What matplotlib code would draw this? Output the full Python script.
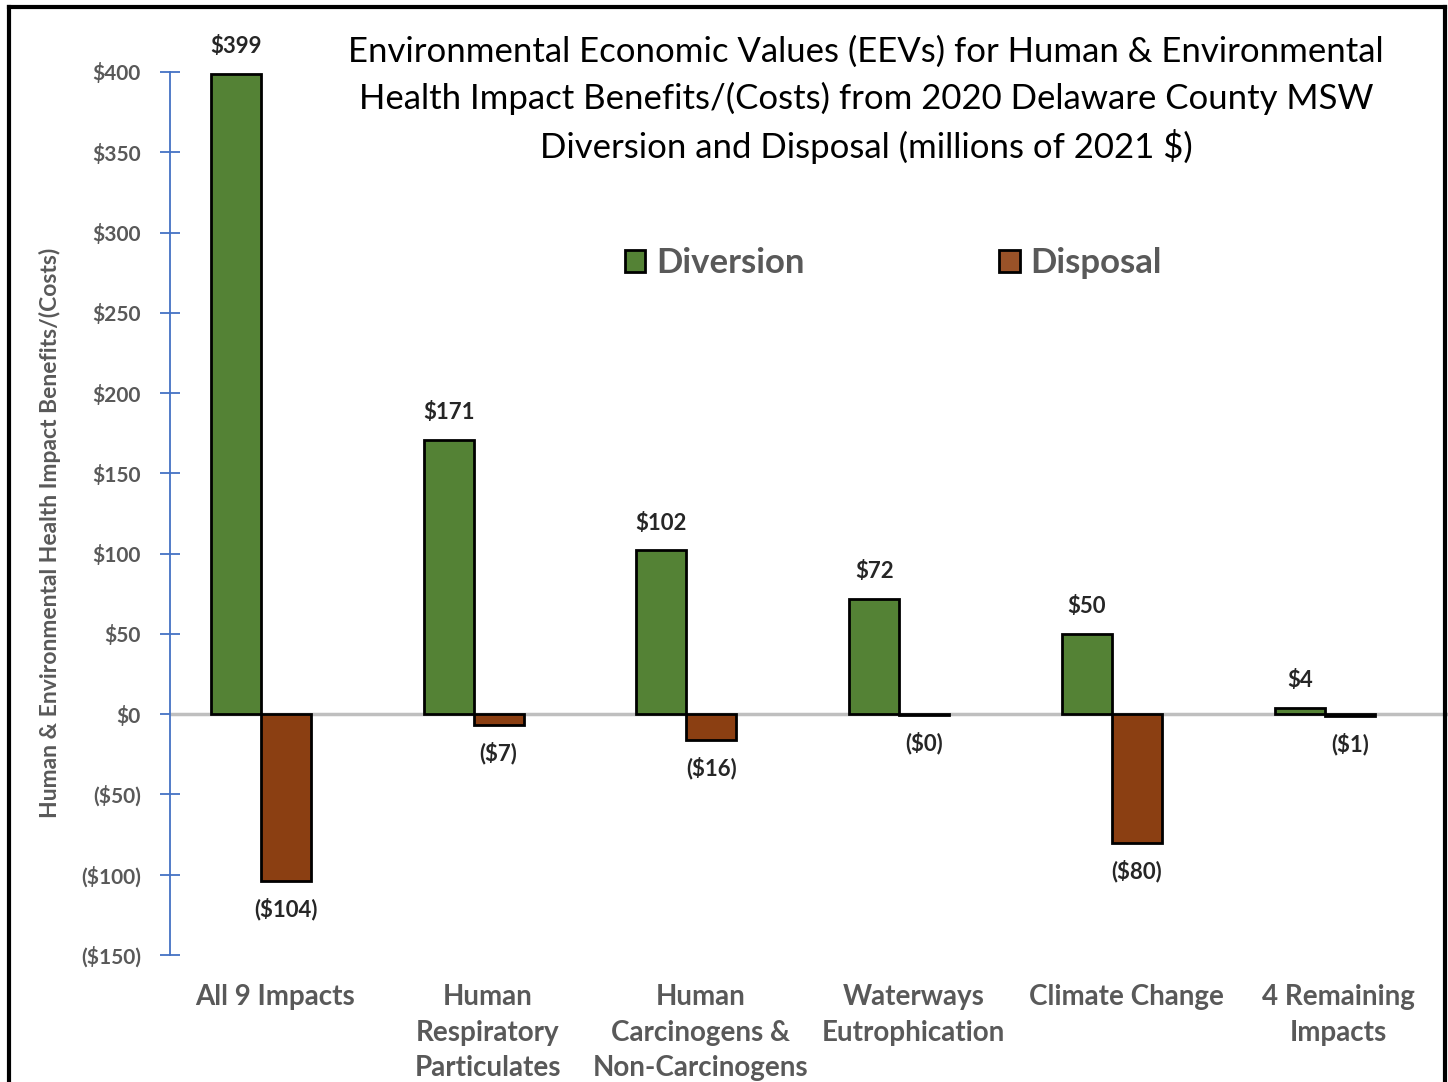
import matplotlib
matplotlib.use("Agg")
import matplotlib.pyplot as plt
import numpy as np
from matplotlib.lines import Line2D
from matplotlib.patches import Patch

categories = ["All 9 Impacts", "Human\nRespiratory\nParticulates", "Human\nCarcinogens &\nNon-Carcinogens",
              "Waterways\nEutrophication", "Climate Change", "4 Remaining\nImpacts"]
diversion = [399, 171, 102, 72, 50, 4]
disposal = [-104, -7, -16, -0.4, -80, -1.3]
div_labels = ["$399", "$171", "$102", "$72", "$50", "$4"]
dis_labels = ["($104)", "($7)", "($16)", "($0)", "($80)", "($1)"]
yticks = [-150, -100, -50, 0, 50, 100, 150, 200, 250, 300, 350, 400]
ytick_labels = ["($150)", "($100)", "($50)", "$0", "$50", "$100", "$150", "$200", "$250", "$300", "$350", "$400"]

plt.rcParams['font.family'] = ['Lato', 'DejaVu Sans']

W, H = 1448, 1082
fig = plt.figure(figsize=(W/100, H/100), dpi=100)
ax = fig.add_axes([170/W, 1 - 955/H, (1448-170)/W, (955-72)/H])

green = "#548235"
brown = "#8B3F12"
gray = "#595959"

x = np.arange(len(categories))
bw = 0.235
ax.bar(x - bw/2, diversion, bw, color=green, edgecolor="black", linewidth=2, label="Diversion", zorder=3)
ax.bar(x + bw/2, disposal, bw, color=brown, edgecolor="black", linewidth=2, label="Disposal", zorder=3)

for xi, v, t in zip(x - bw/2, diversion, div_labels):
    ax.annotate(t, (xi, v), xytext=(0, 12), textcoords="offset points", ha="center", va="bottom",
                fontsize=16, fontweight="bold", color="#262626", annotation_clip=False)
for xi, v, t in zip(x + bw/2, disposal, dis_labels):
    ax.annotate(t, (xi, v), xytext=(0, -12), textcoords="offset points", ha="center", va="top",
                fontsize=16, fontweight="bold", color="#262626", annotation_clip=False)

ax.axhline(0, color="#BFBFBF", linewidth=2.5, zorder=2)

ax.set_xlim(-0.427, 5.579)
ax.set_ylim(-150, 400)
ax.set_yticks(yticks)
ax.set_yticklabels(ytick_labels, fontsize=15, fontweight="bold", color=gray)
ax.set_xticks(x + 0.066)
ax.set_xticklabels(categories, fontsize=20, fontweight="bold", color=gray, linespacing=1.45, va="top")
ax.tick_params(axis="x", length=0, pad=21)
ax.tick_params(axis="y", direction="inout", length=14, width=1.3, color="#4472C4", pad=14)
for s in ["top", "right", "bottom"]:
    ax.spines[s].set_visible(False)
ax.spines["left"].set_color("#4472C4")
ax.spines["left"].set_linewidth(1.3)

fig.text(50/W, 1 - 533/H, "Human & Environmental Health Impact Benefits/(Costs)", rotation=90,
         ha="center", va="center", fontsize=16.5, fontweight="bold", color=gray)

fig.text(866/W, 1 - 100/H, "Environmental Economic Values (EEVs) for Human & Environmental\n"
         "Health Impact Benefits/(Costs) from 2020 Delaware County MSW\n"
         "Diversion and Disposal (millions of 2021 $)", ha="center", va="center",
         fontsize=25, color="black", linespacing=1.5)

handles = [Patch(facecolor=green, edgecolor="black", linewidth=2),
           Patch(facecolor="#9A5228", edgecolor="black", linewidth=2)]
leg = fig.legend(handles, ["Diversion", "Disposal"], ncol=2, loc="center",
                 bbox_to_anchor=(893/W, 1 - 263/H), frameon=False,
                 prop={"size": 25, "weight": "bold"}, handlelength=0.6, handleheight=0.6,
                 handletextpad=0.3, columnspacing=5.6)
for t in leg.get_texts():
    t.set_color(gray)

# outer border
fig.add_artist(Line2D([9/W, 9/W], [0, 1 - 7/H], color="black", linewidth=3, transform=fig.transFigure))
fig.add_artist(Line2D([9/W, 1445/W], [1 - 7/H, 1 - 7/H], color="black", linewidth=3, transform=fig.transFigure))
fig.add_artist(Line2D([1445/W, 1445/W], [0, 1 - 7/H], color="black", linewidth=3, transform=fig.transFigure))

fig.savefig("out.png", dpi=100)
